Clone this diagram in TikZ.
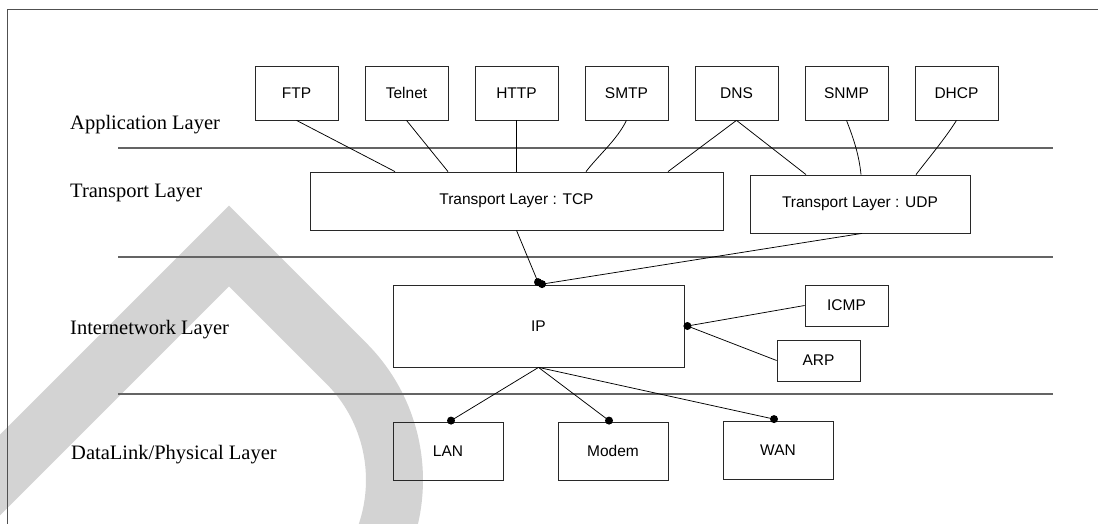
\documentclass[tikz,border=0pt]{standalone}
\usepackage{fontspec}
\setmainfont{Liberation Serif}
\setsansfont{Liberation Sans}
\usetikzlibrary{calc}
\definecolor{wm}{RGB}{211,211,211}
\definecolor{rulec}{RGB}{100,100,100}
\definecolor{boxc}{RGB}{40,40,40}
\definecolor{framec}{RGB}{80,80,80}
\tikzset{
  box/.style={draw=boxc, line width=0.8pt, inner sep=0pt, fill=none,
    font=\sffamily\fontsize{15.5}{18}\selectfont, text=black},
  appbox/.style={box, minimum width=83pt, minimum height=54pt},
  smallbox/.style={box, minimum width=83pt, minimum height=41pt},
  linkbox/.style={box, minimum width=110pt, minimum height=58pt},
  layerlabel/.style={font=\rmfamily\fontsize{20.5}{24}\selectfont, anchor=base west, inner sep=0pt, text=black},
  link/.style={line width=0.75pt, black},
  layerline/.style={draw=rulec, line width=1.2pt},
  framel/.style={draw=framec, line width=1pt},
  enddot/.style={fill=black}
}
\begin{document}
\begin{tikzpicture}[x=1pt,y=-1pt]
\useasboundingbox (0,0) rectangle (1098,524);
% watermark
\begin{scope}
\clip (0,0) rectangle (1098,524);
\draw[wm, line width=57pt, line join=miter, miter limit=4]
  (-120,595) -- (229,246) -- (346,363) arc[start angle=45, end angle=-45, radius=165.5pt];
\end{scope}
% frame
\draw[framel] (7,524) -- (7,10) -- (1098,10);
% layer separators
\draw[layerline] (118,148) -- (1053,148);
\draw[layerline] (118,257) -- (1053,257);
\draw[layerline] (118,394) -- (1053,394);
% layer labels
\node[layerlabel] (lApp) at (70,130) {Application Layer};
\node[layerlabel] (lTr) at (70,197) {Transport Layer};
\node[layerlabel] (lInt) at (70,334) {Internetwork Layer};
\node[layerlabel] (lDL) at (71,459) {DataLink/Physical Layer};
% application boxes
\node[appbox] (FTP) at (296.5,93) {FTP};
\node[appbox] (Telnet) at (406.5,93) {Telnet};
\node[appbox] (HTTP) at (516.5,93) {HTTP};
\node[appbox] (SMTP) at (626.5,93) {SMTP};
\node[appbox] (DNS) at (736.5,93) {DNS};
\node[appbox] (SNMP) at (846.5,93) {SNMP};
\node[appbox] (DHCP) at (956.5,93) {DHCP};
% transport
\node[box, minimum width=413pt, minimum height=58pt] (TCP) at (516.5,201) {Transport Layer : TCP};
\node[box, minimum width=220pt, minimum height=58pt] (UDP) at (860,204) {Transport Layer : UDP};
% internetwork
\node[box, minimum width=291pt, minimum height=82pt] (IP) at (538.5,326) {IP};
\node[smallbox] (ICMP) at (846.5,305.5) {ICMP};
\node[smallbox] (ARP) at (818.5,360.5) {ARP};
% link
\node[linkbox] (LAN) at (448,451) {LAN};
\node[linkbox] (Modem) at (613,451) {Modem};
\node[linkbox] (WAN) at (778,450) {WAN};
% app -> transport
\draw[link] (FTP.south) -- ([xshift=-121.5pt]TCP.north);
\draw[link] (Telnet.south) -- ([xshift=-68.5pt]TCP.north);
\draw[link] (HTTP.south) -- (TCP.north);
\draw[link] (SMTP.south) .. controls +(-10,20) and +(14,-18) .. ([xshift=69.5pt]TCP.north);
\draw[link] (DNS.south) -- ([xshift=151.5pt]TCP.north);
\draw[link] (DNS.south) -- ([xshift=-54pt]UDP.north);
\draw[link] (SNMP.south) .. controls +(7,18) and +(-2,-20) .. ([xshift=1pt]UDP.north);
\draw[link] (DHCP.south) .. controls +(-12,19) and +(13,-17) .. ([xshift=56pt]UDP.north);
% transport -> IP
\coordinate (dTCP) at ([xshift=-0.5pt,yshift=2.5pt]IP.north);
\coordinate (dUDP) at ([xshift=3.5pt,yshift=0.5pt]IP.north);
\draw[link] (TCP.south) -- (dTCP);
\draw[link] ([xshift=2pt]UDP.south) -- (dUDP);
\fill[enddot] (dTCP) circle (4pt);
\fill[enddot] (dUDP) circle (4pt);
% IP -> ICMP / ARP
\coordinate (dIP) at ([xshift=3pt]IP.east);
\draw[link] (dIP) -- (ICMP.west);
\draw[link] (dIP) -- (ARP.west);
\fill[enddot] (dIP) circle (4pt);
% IP -> link layer
\coordinate (dLAN) at ([xshift=3pt,yshift=1pt]LAN.north);
\coordinate (dModem) at ([xshift=-4pt,yshift=1pt]Modem.north);
\coordinate (dWAN) at ([xshift=-4pt,yshift=1.5pt]WAN.north);
\draw[link] (IP.south) -- (dLAN);
\draw[link] (IP.south) -- (dModem);
\draw[link] (IP.south) -- (dWAN);
\fill[enddot] (dLAN) circle (4pt);
\fill[enddot] (dModem) circle (4pt);
\fill[enddot] (dWAN) circle (4pt);
\end{tikzpicture}
\end{document}
